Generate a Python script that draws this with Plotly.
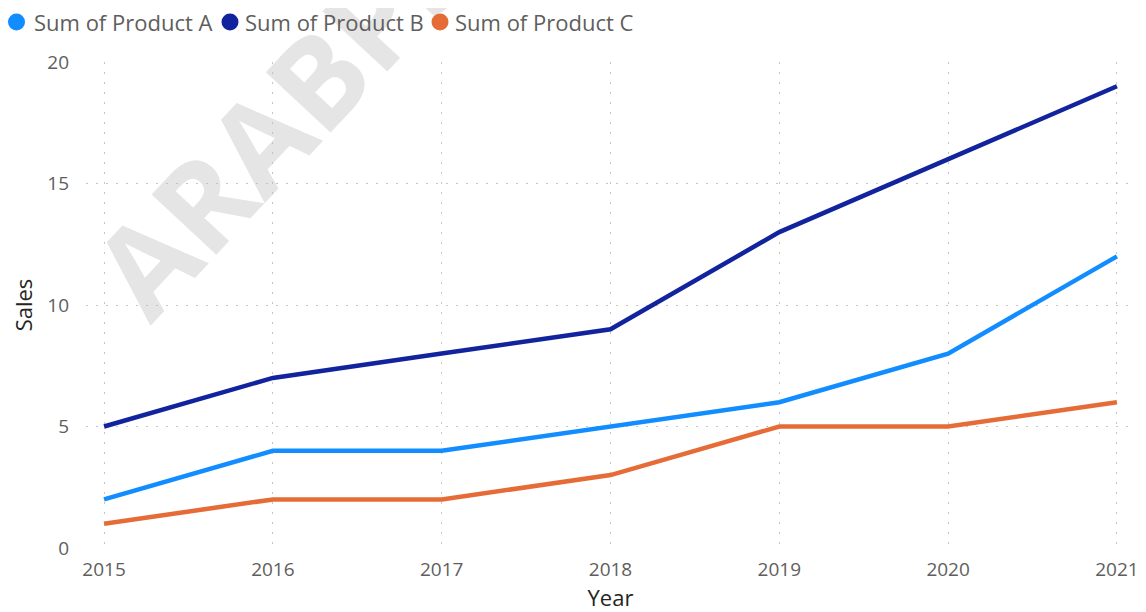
import plotly.graph_objects as go

years = [2015, 2016, 2017, 2018, 2019, 2020, 2021]
product_a = [2, 4, 4, 5, 6, 8, 12]
product_b = [5, 7, 8, 9, 13, 16, 19]
product_c = [1, 2, 2, 3, 5, 5, 6]
series_names = ["Sum of Product A", "Sum of Product B", "Sum of Product C"]
colors = ["#118DFF", "#12239E", "#E66C37"]
y_ticks = [0, 5, 10, 15, 20]

FONT = "Open Sans, Noto Sans, sans-serif"

# figure geometry (page has an 8px body margin)
W, H = 1138, 604
L, R, T, B = 78, 11, 54, 64
PW, PH = W - L - R, H - T - B
OFF = 8


def px(page_x):
    return (page_x - OFF - L) / PW


def py(page_y):
    return (H - B - (page_y - OFF)) / PH


fig = go.Figure()
for name, vals, col in zip(series_names, [product_a, product_b, product_c], colors):
    fig.add_trace(go.Scatter(x=years, y=vals, mode="lines", name=name,
                             line=dict(color=col, width=4.5), showlegend=False))

grid = dict(showgrid=True, gridcolor="#C8C6C4", gridwidth=1, griddash="2px,8px",
            zeroline=False, showline=False, automargin=False)

fig.update_layout(
    width=W, height=H,
    paper_bgcolor="white", plot_bgcolor="white",
    margin=dict(l=L, r=R, t=T, b=B, autoexpand=False),
    font=dict(family=FONT, color="#605E5C", size=16),
    showlegend=False,
    xaxis=dict(range=[2014.893, 2021.107], tickmode="array", tickvals=years,
               ticktext=[str(y) for y in years],
               title=dict(text="Year", font=dict(size=22, color="#252423"), standoff=9),
               tickfont=dict(size=19, color="#605E5C"), ticklabelstandoff=8, **grid),
    yaxis=dict(range=[0, 20], tickmode="array", tickvals=y_ticks,
               title=dict(text="Sales", font=dict(size=22, color="#252423"), standoff=11),
               tickfont=dict(size=19, color="#605E5C"), ticklabelstandoff=16, **grid),
)

# watermark
fig.add_annotation(text="<b>ARABPS</b>", xref="paper", yref="paper",
                   x=px(279), y=py(116),
                   xanchor="center", yanchor="middle",
                   showarrow=False, textangle=-47,
                   font=dict(size=124, color="rgba(190,190,190,0.4)", family=FONT))

# legend (circle markers + labels) at the top-left
legend_circle_x = [16.5, 230, 440]
legend_text_x = [32, 243, 453]
legend_y = 22
for name, col, cx, tx in zip(series_names, colors, legend_circle_x, legend_text_x):
    fig.add_shape(type="circle", xref="paper", yref="paper",
                  xsizemode="pixel", ysizemode="pixel",
                  xanchor=px(cx), yanchor=py(legend_y),
                  x0=-8.5, x1=8.5, y0=-8.5, y1=8.5,
                  fillcolor=col, line=dict(width=0))
    fig.add_annotation(text=name, xref="paper", yref="paper",
                       x=px(tx), y=py(legend_y), xanchor="left", yanchor="middle",
                       showarrow=False,
                       font=dict(size=22, color="#605E5C", family=FONT))

fig.write_html("out.html")
